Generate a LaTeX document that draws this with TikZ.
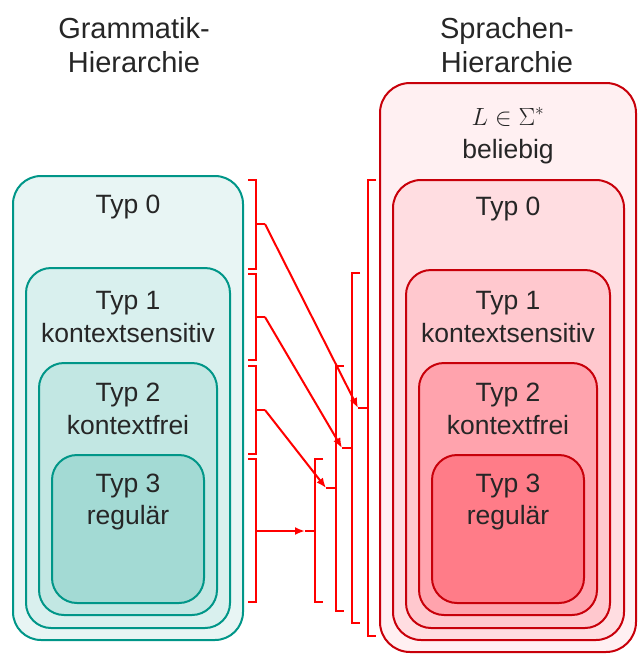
\documentclass[tikz,border=0pt]{standalone}
\usepackage{fontspec}
\setmainfont{Liberation Sans}
\usetikzlibrary{arrows.meta}
\definecolor{tealb}{RGB}{0,150,136}
\definecolor{gz}{RGB}{232,245,244}
\definecolor{ga}{RGB}{217,240,238}
\definecolor{gb}{RGB}{194,231,227}
\definecolor{gc}{RGB}{163,218,212}
\definecolor{redb}{RGB}{200,0,10}
\definecolor{lo}{RGB}{255,240,242}
\definecolor{lz}{RGB}{255,221,225}
\definecolor{la}{RGB}{255,200,206}
\definecolor{lb}{RGB}{255,163,173}
\definecolor{lc}{RGB}{255,124,136}
\definecolor{txt}{RGB}{38,38,38}
\begin{document}
\begin{tikzpicture}[x=1pt,y=-1pt,
  gbox/.style={draw=tealb,line width=2pt,rounded corners=25pt,inner sep=0pt},
  lbox/.style={draw=redb,line width=2pt,rounded corners=25pt,inner sep=0pt},
  lbl/.style={anchor=base,text=txt,font=\fontsize{26.5}{30}\selectfont,inner sep=0pt},
  ttl/.style={anchor=base,text=txt,font=\fontsize{29}{32}\selectfont,inner sep=0pt},
  brk/.style={draw=red,line width=2pt},
  arr/.style={draw=red,line width=2pt,-{Latex[length=10pt,width=8pt]}}]
\useasboundingbox (0,0) rectangle (639,659);
% titles
\node[ttl] (t1) at (134,38) {Grammatik-};
\node[ttl] (t2) at (134,72) {Hierarchie};
\node[ttl] (t3) at (507,38) {Sprachen-};
\node[ttl] (t4) at (507,72) {Hierarchie};
% grammar boxes
\node[gbox,fill=gz,minimum width=230pt,minimum height=464pt,rounded corners=28pt] (G0) at (128,408) {};
\node[gbox,fill=ga,minimum width=204pt,minimum height=360pt] (G1) at (128,448) {};
\node[gbox,fill=gb,minimum width=178pt,minimum height=252pt] (G2) at (128,489) {};
\node[gbox,fill=gc,minimum width=152pt,minimum height=148pt] (G3) at (128,529) {};
\node[lbl] (g0t) at (128,213) {Typ 0};
\node[lbl] (g1t) at (128,309) {Typ 1};
\node[lbl] (g1s) at (128,342) {kontextsensitiv};
\node[lbl] (g2t) at (128,401) {Typ 2};
\node[lbl] (g2s) at (128,434) {kontextfrei};
\node[lbl] (g3t) at (128,492) {Typ 3};
\node[lbl] (g3s) at (128,524) {regulär};
% language boxes
\node[lbox,fill=lo,minimum width=256pt,minimum height=569pt,rounded corners=30pt] (S) at (508,367.5) {};
\node[lbox,fill=lz,minimum width=231pt,minimum height=460pt,rounded corners=28pt] (L0) at (508.5,410) {};
\node[lbox,fill=la,minimum width=204pt,minimum height=358pt] (L1) at (508,449) {};
\node[lbox,fill=lb,minimum width=178pt,minimum height=252pt] (L2) at (508,489) {};
\node[lbox,fill=lc,minimum width=152pt,minimum height=148pt] (L3) at (508,529) {};
\node[lbl] (st) at (508,125) {$L\in\Sigma^*$};
\node[lbl] (ss) at (508,158) {beliebig};
\node[lbl] (l0t) at (508,215) {Typ 0};
\node[lbl] (l1t) at (508,309) {Typ 1};
\node[lbl] (l1s) at (508,342) {kontextsensitiv};
\node[lbl] (l2t) at (508,401) {Typ 2};
\node[lbl] (l2s) at (508,434) {kontextfrei};
\node[lbl] (l3t) at (508,492) {Typ 3};
\node[lbl] (l3s) at (508,524) {regulär};
% left brackets
\coordinate (a0) at (256,224); \coordinate (a0e) at (265,224);
\coordinate (a1) at (256,317); \coordinate (a1e) at (265,317);
\coordinate (a2) at (256,410); \coordinate (a2e) at (265,410);
\coordinate (a3) at (256,531);
\path[brk] (248,180) -- (256,180) -- (256,269) -- (248,269);
\path[brk] (248,274) -- (256,274) -- (256,360) -- (248,360);
\path[brk] (248,366) -- (256,366) -- (256,454) -- (248,454);
\path[brk] (248,459) -- (256,459) -- (256,602) -- (248,602);
\path[brk] (a0) -- (a0e);
\path[brk] (a1) -- (a1e);
\path[brk] (a2) -- (a2e);
% right brackets
\coordinate (b0) at (358,408); \coordinate (b0e) at (368,408);
\coordinate (b1) at (342,448); \coordinate (b1e) at (352,448);
\coordinate (b2) at (326,488); \coordinate (b2e) at (336,488);
\coordinate (b3) at (305,531); \coordinate (b3e) at (315,531);
\path[brk] (376,180) -- (368,180) -- (368,636) -- (376,636);
\path[brk] (360,273) -- (352,273) -- (352,623) -- (360,623);
\path[brk] (344,366) -- (336,366) -- (336,611) -- (344,611);
\path[brk] (323,459) -- (315,459) -- (315,602) -- (323,602);
\path[brk] (b0) -- (b0e);
\path[brk] (b1) -- (b1e);
\path[brk] (b2) -- (b2e);
\path[brk] (b3) -- (b3e);
% arrows
\path[arr] (a0e) -- (b0);
\path[arr] (a1e) -- (b1);
\path[arr] (a2e) -- (b2);
\path[arr] (a3) -- (b3);
\end{tikzpicture}
\end{document}
